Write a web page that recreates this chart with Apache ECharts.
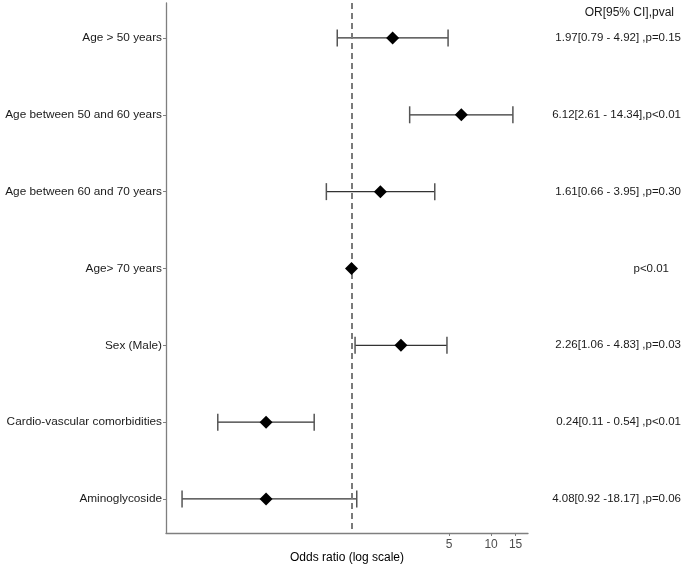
<!DOCTYPE html>
<html>
<head>
<meta charset="utf-8">
<script src="https://cdn.jsdelivr.net/npm/echarts@6/dist/echarts.min.js"></script>
<style>html,body{margin:0;padding:0;background:#fff}#c{width:685px;height:568px}</style>
</head>
<body>
<div id="c"></div>
<script>
var categories = ['Age > 50 years','Age between 50 and 60 years','Age between 60 and 70 years','Age> 70 years','Sex (Male)','Cardio-vascular comorbidities','Aminoglycoside'];
var orValues = [1.97, 6.12, 1.61, 1, 2.26, 0.244, 0.244];
var ciLow = [0.79, 2.61, 0.66, 1, 1.06, 0.11, 0.061];
var ciHigh = [4.92, 14.34, 3.95, 1, 4.83, 0.54, 1.09];
var annotations = ['1.97[0.79 - 4.92] ,p=0.15','6.12[2.61 - 14.34],p<0.01','1.61[0.66 - 3.95] ,p=0.30','p<0.01','2.26[1.06 - 4.83] ,p=0.03','0.24[0.11 - 0.54] ,p<0.01','4.08[0.92 -18.17] ,p=0.06'];
var annotHeader = 'OR[95% CI],pval';
var xTicks = [5, 10, 15];
var refValue = 1;

var FONT = 'Liberation Sans, Arial, sans-serif';
var rowPos = categories.map(function(_, i){ return i + 1; });
var scatterData = orValues.map(function(v, i){ return [v, rowPos[i]]; });
var barData = ciLow.map(function(v, i){ return [v, ciHigh[i], rowPos[i]]; });
var headerPos = 0.667;
var rightValues = [headerPos].concat(rowPos);

var chart = echarts.init(document.getElementById('c'), null, {renderer:'canvas'});
chart.setOption({
  animation: false,
  grid: {left: 166, right: 157, top: 3, bottom: 35, containLabel: false, outerBoundsMode: 'none'},
  xAxis: {
    type: 'log', min: 0.0468, max: 18.4,
    name: 'Odds ratio (log scale)', nameLocation: 'middle', nameGap: 19, nameMoveOverlap: false,
    nameTextStyle: {fontFamily: FONT, fontSize: 12, color: '#000'},
    axisLine: {lineStyle: {color: '#7f7f7f', width: 1.3}},
    axisTick: {show: true, length: 3, lineStyle: {color: '#7f7f7f'}, customValues: xTicks},
    axisLabel: {customValues: xTicks, fontFamily: FONT, fontSize: 12, color: '#4d4d4d', margin: 6,
      formatter: function(v){ return String(Math.round(v)); }},
    splitLine: {show: false}
  },
  yAxis: [{
    type: 'value', inverse: true, min: 0.545, max: 7.443,
    axisLine: {show: true, lineStyle: {color: '#7f7f7f', width: 1.3}},
    axisTick: {show: true, length: 3, lineStyle: {color: '#7f7f7f'}, customValues: rowPos},
    axisLabel: {customValues: rowPos, fontFamily: FONT, fontSize: 11.8, color: '#1a1a1a', margin: 4,
      formatter: function(v){ return categories[Math.round(v) - 1]; }},
    splitLine: {show: false}
  }, {
    type: 'value', inverse: true, min: 0.545, max: 7.443, position: 'right', offset: 153,
    axisLine: {show: false}, axisTick: {show: false}, splitLine: {show: false},
    axisLabel: {customValues: rightValues, inside: true, margin: 0, fontFamily: FONT, fontSize: 11.5, color: '#1a1a1a',
      formatter: function(v){
        if (Math.abs(v - headerPos) < 0.01) return '{h|' + annotHeader + '}';
        var t = annotations[Math.round(v) - 1];
        if (t.length < 10) return '{s|' + t + '}';
        return t;
      },
      rich: {h: {fontFamily: FONT, fontSize: 12, color: '#1a1a1a', padding: [0, 7, 0, 0]},
             s: {fontFamily: FONT, fontSize: 11.5, color: '#1a1a1a', padding: [0, 12, 0, 0]}}}
  }],
  series: [{
    type: 'custom',
    data: barData,
    encode: {x: [0, 1], y: 2},
    renderItem: function(params, api){
      var lo = api.value(0), hi = api.value(1), y = api.value(2);
      if (lo === hi) return null;
      var p1 = api.coord([lo, y]), p2 = api.coord([hi, y]);
      var h = 8.5;
      return {type: 'group', children: [
        {type: 'line', shape: {x1: p1[0], y1: p1[1], x2: p2[0], y2: p2[1]}, style: {stroke: '#333', lineWidth: 1.2}},
        {type: 'line', shape: {x1: p1[0], y1: p1[1] - h, x2: p1[0], y2: p1[1] + h}, style: {stroke: '#555', lineWidth: 1.5}},
        {type: 'line', shape: {x1: p2[0], y1: p2[1] - h, x2: p2[0], y2: p2[1] + h}, style: {stroke: '#555', lineWidth: 1.5}}
      ]};
    },
    z: 3,
    markLine: {
      silent: true, symbol: ['none', 'none'], label: {show: false},
      lineStyle: {type: [6, 4], color: '#7a7a7a', width: 2},
      data: [{xAxis: refValue}]
    }
  }, {
    type: 'scatter',
    data: scatterData,
    symbol: 'diamond', symbolSize: [13, 13],
    itemStyle: {color: '#000', opacity: 1},
    z: 5
  }]
});
</script>
</body>
</html>
